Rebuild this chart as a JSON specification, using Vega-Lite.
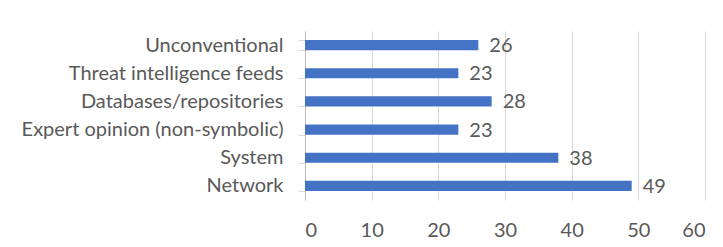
{
  "$schema": "https://vega.github.io/schema/vega-lite/v6.json",
  "width": 400,
  "height": 169,
  "autosize": {"type": "none"},
  "padding": {"left": 305, "top": 31, "right": 18, "bottom": 47},
  "background": "white",
  "config": {
    "view": {"stroke": null},
    "font": "Lato"
  },
  "data": {
    "values": [
      {"category": "Unconventional", "value": 26},
      {"category": "Threat intelligence feeds", "value": 23},
      {"category": "Databases/repositories", "value": 28},
      {"category": "Expert opinion (non-symbolic)", "value": 23},
      {"category": "System\u00a0", "value": 38},
      {"category": "Network\u00a0", "value": 49}
    ]
  },
  "encoding": {
    "y": {
      "field": "category",
      "type": "nominal",
      "sort": null,
      "scale": {"paddingInner": 0.64, "paddingOuter": 0.32},
      "axis": {
        "title": null,
        "domainColor": "#bfbfbf",
        "tickColor": "#d9d9d9",
        "tickSize": 7,
        "tickBand": "extent",
        "labelPadding": 15,
        "labelFontSize": 20,
        "labelLimit": 0,
        "labelColor": "#595959",
        "labelFont": "Lato"
      }
    },
    "x": {
      "field": "value",
      "type": "quantitative",
      "scale": {"domain": [0, 60], "nice": false},
      "axis": {
        "title": null,
        "values": [0, 10, 20, 30, 40, 50, 60],
        "domain": false,
        "ticks": false,
        "grid": true,
        "gridColor": "#d9d9d9",
        "labelPadding": 20,
        "labelFontSize": 20,
        "labelColor": "#595959",
        "labelFont": "Lato"
      }
    }
  },
  "layer": [
    {"mark": {"type": "bar", "color": "#4472C4"}},
    {
      "mark": {"type": "text", "align": "left", "baseline": "middle", "dx": 11, "dy": 1, "fontSize": 20, "color": "#595959", "font": "Lato"},
      "encoding": {"text": {"field": "value", "type": "quantitative"}}
    }
  ]
}
